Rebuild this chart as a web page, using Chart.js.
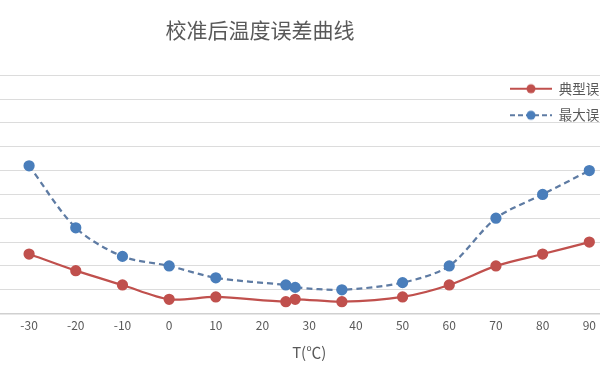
<!DOCTYPE html>
<html>
<head>
<meta charset="utf-8">
<script src="https://cdn.jsdelivr.net/npm/chart.js@4.4.1/dist/chart.umd.min.js"></script>
<style>
  html, body { margin: 0; padding: 0; background: #fff; overflow: hidden; }
  #wrap { position: relative; width: 600px; height: 371px; overflow: hidden; }
  /* the reference is a crop of a wider chart: canvas sticks out both sides */
  #errChart { position: absolute; left: -116px; top: 0; }
</style>
</head>
<body>
<div id="wrap"><canvas id="errChart" width="776" height="371"></canvas></div>
<script>
/* Data */
const temps = [-30, -20, -10, 0, 10, 25, 27, 37, 50, 60, 70, 80, 90];
const typicalErr = [0.125, 0.09, 0.06, 0.03, 0.035, 0.025, 0.03, 0.025, 0.035, 0.06, 0.1, 0.125, 0.15];
const maxErr = [0.31, 0.18, 0.12, 0.1, 0.075, 0.06, 0.055, 0.05, 0.065, 0.1, 0.2, 0.25, 0.3];
const seriesNames = ['典型误差', '最大误差'];
const chartTitle = '校准后温度误差曲线';
const xTitle = 'T(℃)';

const FONT = '"Noto Sans CJK SC", "Noto Sans", sans-serif';
const TEXT = '#595959';
const RED = '#C0504D';
const BLUE_PT = '#4A7EBB';
const BLUE_LINE = '#5E7BA3';

// small line+marker picture for the legend entries
function legendImage(lineColor, pointColor, dash) {
  const c = document.createElement('canvas');
  c.width = 42;
  c.height = 12;
  const g = c.getContext('2d');
  g.strokeStyle = lineColor;
  g.lineWidth = 2;
  g.setLineDash(dash);
  g.beginPath();
  g.moveTo(0, 6);
  g.lineTo(42, 6);
  g.stroke();
  g.fillStyle = pointColor;
  g.beginPath();
  g.arc(21, 6, 4.5, 0, Math.PI * 2);
  g.fill();
  return c;
}
const legendPics = [legendImage(RED, RED, []), legendImage(BLUE_LINE, BLUE_PT, [5, 3])];

function toPoints(ys) {
  return temps.map((t, i) => ({ x: t, y: ys[i] }));
}

// put the legend in the top right corner of the plot, over the grid
const legendPlace = {
  id: 'legendPlace',
  beforeDraw(chart) {
    const lg = chart.legend;
    lg.left = 613;
    lg.top = 69;
    lg.right = lg.left + lg.width;
    lg.bottom = lg.top + 80;
  }
};

const ctx = document.getElementById('errChart').getContext('2d');
const errChart = new Chart(ctx, {
  type: 'line',
  data: {
    datasets: [
      {
        label: seriesNames[0],
        data: toPoints(typicalErr),
        borderColor: RED,
        backgroundColor: RED,
        pointBackgroundColor: RED,
        pointBorderColor: RED,
        borderWidth: 2.25,
        pointRadius: 4.5,
        tension: 0.3,
        fill: false
      },
      {
        label: seriesNames[1],
        data: toPoints(maxErr),
        borderColor: BLUE_LINE,
        backgroundColor: BLUE_PT,
        pointBackgroundColor: BLUE_PT,
        pointBorderColor: BLUE_PT,
        borderWidth: 2.25,
        borderDash: [6, 4],
        pointRadius: 4.5,
        tension: 0.3,
        fill: false
      }
    ]
  },
  options: {
    responsive: false,
    animation: false,
    layout: {
      padding: { left: 0, right: 24, top: 0, bottom: 8 }
    },
    scales: {
      x: {
        type: 'linear',
        min: -40,
        max: 100,
        ticks: {
          stepSize: 10,
          padding: 5,
          color: TEXT,
          font: { family: FONT, size: 12 }
        },
        grid: { display: false, drawTicks: false },
        border: { display: true, color: '#D0D0D0', width: 1.5 },
        title: {
          display: true,
          text: xTitle,
          color: TEXT,
          font: { family: FONT, size: 15 },
          padding: { top: 5, bottom: 2 }
        }
      },
      y: {
        min: 0,
        max: 0.5,
        ticks: { display: false, stepSize: 0.05 },
        grid: { color: '#DCDCDC', lineWidth: 1, drawTicks: false },
        border: { display: false },
        // room of the (cropped away) value labels
        afterFit(scale) { scale.width = 98.4; }
      }
    },
    plugins: {
      title: {
        display: true,
        text: chartTitle,
        color: TEXT,
        font: { family: FONT, size: 21, weight: 'normal' },
        padding: { top: 17, bottom: 33 }
      },
      legend: {
        position: 'chartArea',
        align: 'start',
        labels: {
          usePointStyle: true,
          pointStyleWidth: 42,
          boxHeight: 13,
          padding: 13,
          color: TEXT,
          font: { family: FONT, size: 13.5 },
          generateLabels(chart) {
            return chart.data.datasets.map((ds, i) => ({
              text: ds.label,
              pointStyle: legendPics[i],
              fillStyle: ds.backgroundColor,
              strokeStyle: ds.borderColor,
              lineWidth: 0,
              fontColor: TEXT,
              hidden: false,
              datasetIndex: i
            }));
          }
        }
      },
      tooltip: { enabled: false }
    }
  },
  plugins: [legendPlace]
});
</script>
</body>
</html>
